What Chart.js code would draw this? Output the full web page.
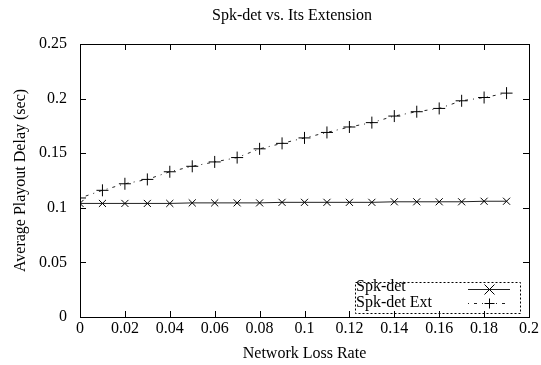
<!DOCTYPE html>
<html lang="en">
<head>
  <meta charset="UTF-8">
  <title>Spk-det vs. Its Extension</title>
  <script src="https://cdn.jsdelivr.net/npm/chart.js"></script>
  <style>
    html, body { margin: 0; padding: 0; background: #fff; }
    #wrap { width: 541px; height: 365px; }
  </style>
</head>
<body>
  <div id="wrap"><canvas id="chart" width="541" height="365"></canvas></div>
  <script>
    // loss rates (x) and average playout delay in seconds (y)
    const lossRates = [0, 0.01, 0.02, 0.03, 0.04, 0.05, 0.06, 0.07, 0.08, 0.09,
                       0.10, 0.11, 0.12, 0.13, 0.14, 0.15, 0.16, 0.17, 0.18, 0.19];
    const spkDet = [0.104, 0.104, 0.104, 0.104, 0.104, 0.1045, 0.1045, 0.1045, 0.1045, 0.105,
                    0.105, 0.105, 0.105, 0.105, 0.1055, 0.1055, 0.1055, 0.1055, 0.106, 0.106];
    const spkDetExt = [0.109, 0.116, 0.122, 0.126, 0.133, 0.138, 0.142, 0.146, 0.154, 0.159,
                       0.164, 0.169, 0.174, 0.178, 0.184, 0.188, 0.191, 0.198, 0.201, 0.205];
    const xTicks = [0, 0.02, 0.04, 0.06, 0.08, 0.1, 0.12, 0.14, 0.16, 0.18, 0.2];
    const yTicks = [0, 0.05, 0.1, 0.15, 0.2, 0.25];

    const FONT = "'Liberation Serif', 'Times New Roman', serif";
    const pts = ys => lossRates.map((x, i) => ({ x: x, y: ys[i] }));
    const fmt = v => String(+(+v).toFixed(3));

    // gnuplot-like frame: box around plot area with inward ticks on all sides
    const framePlugin = {
      id: 'frame',
      afterDraw(chart) {
        const { ctx, chartArea: a, scales } = chart;
        ctx.save();
        ctx.strokeStyle = '#000';
        ctx.lineWidth = 1;
        ctx.strokeRect(a.left + 0.5, a.top + 0.5, a.right - a.left, a.bottom - a.top);
        ctx.beginPath();
        const len = 6;
        xTicks.forEach(v => {
          const px = Math.round(scales.x.getPixelForValue(v)) + 0.5;
          ctx.moveTo(px, a.bottom); ctx.lineTo(px, a.bottom - len);
          ctx.moveTo(px, a.top); ctx.lineTo(px, a.top + len);
        });
        yTicks.forEach(v => {
          const py = Math.round(scales.y.getPixelForValue(v)) + 0.5;
          ctx.moveTo(a.left, py); ctx.lineTo(a.left + len, py);
          ctx.moveTo(a.right, py); ctx.lineTo(a.right - len, py);
        });
        ctx.stroke();

        // title
        ctx.fillStyle = '#000';
        ctx.font = '16px ' + FONT;
        ctx.textAlign = 'center';
        ctx.textBaseline = 'middle';
        ctx.fillText('Spk-det vs. Its Extension', 292, 16);

        // key box, bottom right
        const bx = a.right - 174, by = a.bottom - 35, bw = 165, bh = 31;
        ctx.setLineDash([2, 2]);
        ctx.strokeRect(bx + 0.5, by + 0.5, bw, bh);
        ctx.setLineDash([]);
        ctx.textAlign = 'left';
        ctx.font = '16px ' + FONT;
        chart.data.datasets.forEach((ds, i) => {
          const ty = by + 5 + i * 16;
          ctx.fillText(ds.label, bx + 1, ty);
          const ly = ty + (i === 0 ? 2 : 0) + 0.5;
          ctx.setLineDash(ds.borderDash || []);
          ctx.strokeStyle = ds.borderColor;
          ctx.beginPath();
          ctx.moveTo(bx + 113, ly); ctx.lineTo(bx + 155, ly);
          ctx.stroke();
          ctx.setLineDash([]);
          ctx.strokeStyle = '#000';
          ctx.beginPath();
          const cx = bx + 134.5, r = 5;
          if (ds.pointStyle === 'crossRot') {
            ctx.moveTo(cx - r, ly - r); ctx.lineTo(cx + r, ly + r);
            ctx.moveTo(cx + r, ly - r); ctx.lineTo(cx - r, ly + r);
          } else {
            ctx.moveTo(cx - r, ly); ctx.lineTo(cx + r, ly);
            ctx.moveTo(cx, ly - r); ctx.lineTo(cx, ly + r);
          }
          ctx.stroke();
        });
        ctx.restore();
      }
    };

    new Chart(document.getElementById('chart').getContext('2d'), {
      type: 'scatter',
      data: {
        datasets: [{
          label: 'Spk-det',
          data: pts(spkDet),
          showLine: true,
          borderColor: '#222',
          borderWidth: 1,
          pointStyle: 'crossRot',
          pointRadius: 5,
          pointBorderColor: '#000',
          pointBorderWidth: 1
        }, {
          label: 'Spk-det Ext',
          data: pts(spkDetExt),
          showLine: true,
          borderColor: '#222',
          borderWidth: 1,
          borderDash: [1, 5, 3, 5],
          pointStyle: 'cross',
          pointRadius: 6,
          pointBorderColor: '#000',
          pointBorderWidth: 1
        }]
      },
      options: {
        responsive: false,
        animation: false,
        layout: { padding: { top: 44, right: 11, left: 0, bottom: 0 } },
        plugins: { legend: { display: false }, title: { display: false }, tooltip: { enabled: false } },
        scales: {
          x: {
            type: 'linear', min: 0, max: 0.2,
            afterBuildTicks: s => { s.ticks = xTicks.map(v => ({ value: v })); },
            afterFit: s => { s.height = 48; },
            grid: { display: false, drawTicks: false },
            border: { display: false },
            ticks: { color: '#000', font: { family: FONT, size: 16 }, padding: 2, maxRotation: 0, callback: fmt },
            title: { display: true, text: 'Network Loss Rate', color: '#000', font: { family: FONT, size: 16 }, padding: { top: 0, bottom: 2 } }
          },
          y: {
            type: 'linear', min: 0, max: 0.25,
            afterBuildTicks: s => { s.ticks = yTicks.map(v => ({ value: v })); },
            afterFit: s => { s.width = 80; },
            grid: { display: false, drawTicks: false },
            border: { display: false },
            ticks: { color: '#000', font: { family: FONT, size: 16 }, padding: 13, callback: fmt },
            title: { display: true, text: 'Average Playout Delay (sec)', color: '#000', font: { family: FONT, size: 16 }, padding: { top: 11, bottom: 0 } }
          }
        }
      },
      plugins: [framePlugin]
    });
  </script>
</body>
</html>
